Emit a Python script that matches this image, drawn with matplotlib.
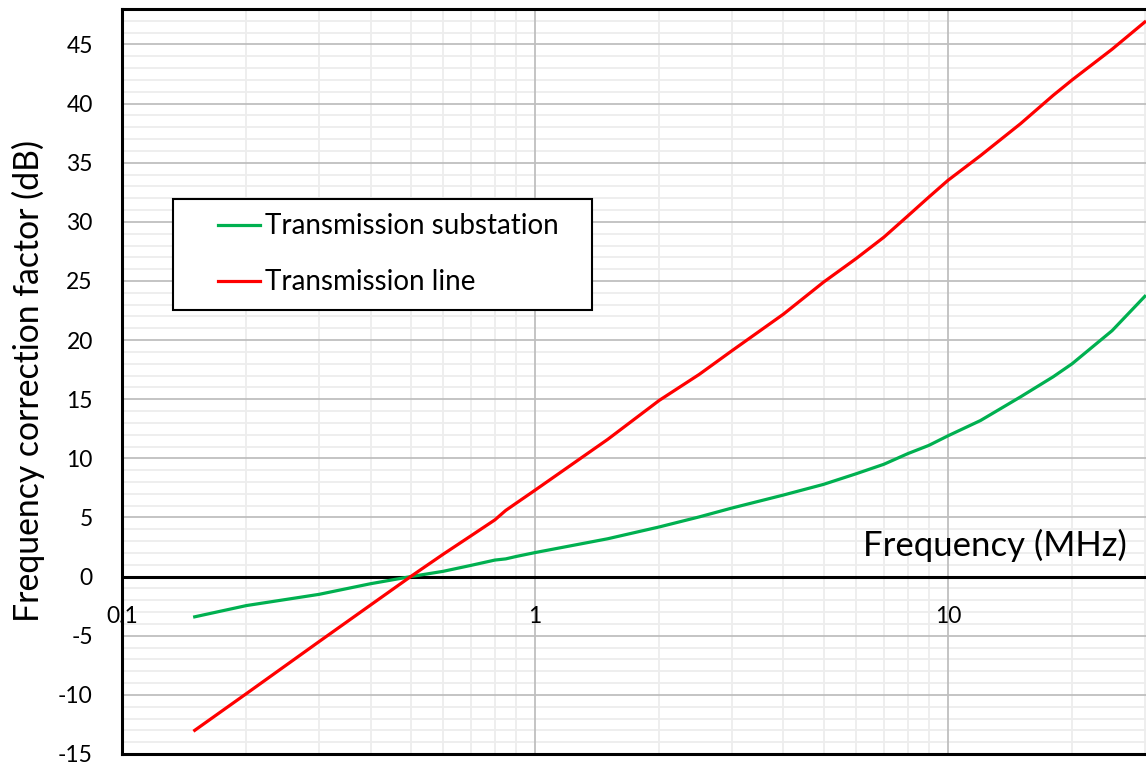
import numpy as np
import matplotlib
matplotlib.use("Agg")
import matplotlib.pyplot as plt
from matplotlib.ticker import FixedLocator, NullLocator, NullFormatter
from matplotlib.legend_handler import HandlerLine2D

plt.rcParams['font.family'] = ['Lato', 'DejaVu Sans']
plt.rcParams['axes.unicode_minus'] = False

# frequency (MHz)
freq = [0.15, 0.2, 0.3, 0.4, 0.5, 0.6, 0.7, 0.8, 0.85, 0.9, 1.0, 1.5, 2, 2.5,
        3, 4, 5, 6, 7, 8, 9, 10, 12, 15, 18, 20, 25, 30]
# correction factor (dB)
substation = [-3.4, -2.45, -1.5, -0.6, 0.0, 0.45, 0.95, 1.4, 1.5, 1.7, 2.03, 3.2, 4.2, 5.05,
              5.8, 6.9, 7.8, 8.7, 9.5, 10.4, 11.1, 11.9, 13.2, 15.2, 16.9, 18.0, 20.8, 23.7]
line = [-13.0, -9.9, -5.5, -2.4, 0.0, 1.9, 3.45, 4.8, 5.6, 6.2, 7.3, 11.6, 14.9, 17.1,
        19.1, 22.2, 24.9, 26.9, 28.7, 30.5, 32.1, 33.5, 35.6, 38.3, 40.7, 42.0, 44.6, 46.9]

labels = ['Transmission substation', 'Transmission line']
colors = ['#00b050', '#ff0000']
xmajor = [0.1, 1, 10]
xmajor_labels = ['0.1', '1', '10']
xminor = [m * d for d in [0.1, 1, 10] for m in range(2, 10)]
yticks = np.arange(-15, 50, 5)
yminor = [v for v in range(-14, 49) if v % 5 != 0]
xlim = (0.1, 30.2)
ylim = (-15, 48)

fig = plt.figure(figsize=(11.46, 7.68), dpi=100)
ax = fig.add_axes([122/1146, 14/768, 1024/1146, 745/768])

# light minor grid, under the major grid
for v in xminor:
    ax.axvline(v, color='#ededed', lw=1.3, zorder=0.1)
for v in yminor:
    ax.axhline(v, color='#ededed', lw=1.3, zorder=0.1)

ax.plot(freq, substation, color=colors[0], lw=2.3, label=labels[0], zorder=3)
ax.plot(freq, line, color=colors[1], lw=2.3, label=labels[1], zorder=3)

ax.set_xscale('log')
ax.set_xlim(*xlim)
ax.set_ylim(*ylim)

ax.xaxis.set_major_locator(FixedLocator(xmajor))
ax.xaxis.set_minor_locator(NullLocator())
ax.xaxis.set_major_formatter(NullFormatter())
ax.set_yticks(yticks)

ax.grid(True, which='major', color='#bfbfbf', lw=1.3)
ax.set_axisbelow(True)

ax.tick_params(axis='both', which='both', length=0)
ax.tick_params(axis='y', labelsize=16.5, pad=21)

for s in ['left', 'top', 'bottom']:
    ax.spines[s].set_linewidth(2.2)
    ax.spines[s].set_color('black')
ax.spines['right'].set_visible(False)

# horizontal axis crossing at 0 dB, labels just under it
ax.axhline(0, color='black', lw=2.2, zorder=2.5)
for xv, lbl in zip(xmajor, xmajor_labels):
    ax.annotate(lbl, xy=(xv, 0), xytext=(0, -29), textcoords='offset points',
                ha='center', va='center', fontsize=16.5, annotation_clip=False, zorder=2)

ax.text(0.981, 0.28, 'Frequency (MHz)', transform=ax.transAxes, ha='right', va='center',
        fontsize=25)
ax.set_ylabel('Frequency correction factor (dB)', fontsize=24.3)
ax.yaxis.set_label_coords(-0.075, 0.5)

leg = ax.legend(loc='upper left', bbox_to_anchor=(0.0498, 0.596, 0.409, 0.149),
                mode='expand', borderaxespad=0, borderpad=0.52, fontsize=20,
                handlelength=2.6, handletextpad=0.18, labelspacing=1.08,
                fancybox=False, framealpha=1, edgecolor='black',
                handler_map={plt.Line2D: HandlerLine2D(xpad=1.1)})
leg.get_frame().set_linewidth(1.5)

fig.savefig('out.png', dpi=100)
